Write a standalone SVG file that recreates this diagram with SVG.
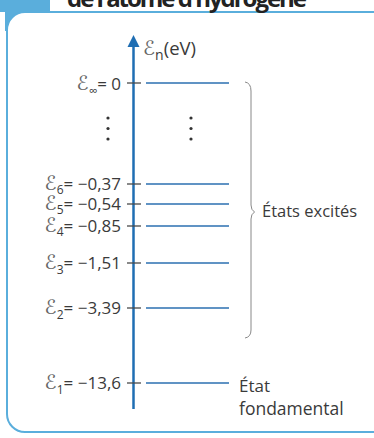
<svg xmlns="http://www.w3.org/2000/svg" width="374" height="438" viewBox="0 0 374 438">
<style>
.lbl{font-family:"Open Sans","Noto Sans",sans-serif;font-size:17px;fill:#3a3a3a}
.se{font-family:"DejaVu Sans",sans-serif;fill:#666;font-size:20px}
.sub{font-size:12px}
.lvl{stroke:#2b6fb0;stroke-width:1.7;fill:none}
.tick{stroke:#4a4a4a;stroke-width:1.3}
.dot{fill:#333}
</style>
<rect width="374" height="438" fill="#ffffff"/>
<g id="frame">
<rect x="0" y="0" width="50" height="12" fill="#5aaedc"/>
<rect x="5" y="11" width="22" height="20" fill="#5aaedc"/>
<rect x="7" y="12" width="420" height="420" rx="18" fill="#ffffff" stroke="#5aaedc" stroke-width="2"/>
<text x="67" y="7" font-family="'Open Sans','Noto Sans',sans-serif" font-size="24" font-weight="bold" fill="#222" textLength="240">de l'atome d'hydrogène</text>
</g>
<g id="axis">
<line x1="133.5" y1="409" x2="133.5" y2="45" stroke="#1f6eb3" stroke-width="2.5"/>
<polygon points="133.5,35 127.5,47 139.5,47" fill="#1f6eb3"/>
<text class="lbl" x="143" y="55" style="font-size:18.5px"><tspan class="se">ℰ</tspan><tspan class="sub" dy="5" style="font-size:14px">n</tspan><tspan dy="-5">(eV)</tspan></text>
</g>
<g id="connectors">
<line class="tick" x1="127" y1="83" x2="141" y2="83"/>
<line class="tick" x1="127" y1="184" x2="141" y2="184"/>
<line class="tick" x1="127" y1="204" x2="141" y2="204"/>
<line class="tick" x1="127" y1="226" x2="141" y2="226"/>
<line class="tick" x1="127" y1="263" x2="141" y2="263"/>
<line class="tick" x1="127" y1="308" x2="141" y2="308"/>
<line class="tick" x1="127" y1="383" x2="141" y2="383"/>
</g>
<g id="level-inf">
<line class="lvl" x1="146" y1="83" x2="229" y2="83"/>
<text class="lbl" x="121" y="90" text-anchor="end"><tspan class="se">ℰ</tspan><tspan class="sub" dy="5">∞</tspan><tspan dy="-5">= 0</tspan></text>
</g>
<g id="dots">
<circle class="dot" cx="108" cy="118" r="1.6"/>
<circle class="dot" cx="108" cy="128.5" r="1.6"/>
<circle class="dot" cx="108" cy="139" r="1.6"/>
<circle class="dot" cx="191" cy="118" r="1.6"/>
<circle class="dot" cx="191" cy="128.5" r="1.6"/>
<circle class="dot" cx="191" cy="139" r="1.6"/>
</g>
<g id="level-6">
<line class="lvl" x1="146" y1="184" x2="229" y2="184"/>
<text class="lbl" x="121" y="190" text-anchor="end"><tspan class="se">ℰ</tspan><tspan class="sub" dy="4">6</tspan><tspan dy="-4">= −0,37</tspan></text>
</g>
<g id="level-5">
<line class="lvl" x1="146" y1="204" x2="229" y2="204"/>
<text class="lbl" x="121" y="210" text-anchor="end"><tspan class="se">ℰ</tspan><tspan class="sub" dy="4">5</tspan><tspan dy="-4">= −0,54</tspan></text>
</g>
<g id="level-4">
<line class="lvl" x1="146" y1="226" x2="229" y2="226"/>
<text class="lbl" x="121" y="232" text-anchor="end"><tspan class="se">ℰ</tspan><tspan class="sub" dy="4">4</tspan><tspan dy="-4">= −0,85</tspan></text>
</g>
<g id="level-3">
<line class="lvl" x1="146" y1="263" x2="229" y2="263"/>
<text class="lbl" x="121" y="269" text-anchor="end"><tspan class="se">ℰ</tspan><tspan class="sub" dy="5">3</tspan><tspan dy="-5">= −1,51</tspan></text>
</g>
<g id="level-2">
<line class="lvl" x1="146" y1="308" x2="229" y2="308"/>
<text class="lbl" x="121" y="314" text-anchor="end"><tspan class="se">ℰ</tspan><tspan class="sub" dy="5">2</tspan><tspan dy="-5">= −3,39</tspan></text>
</g>
<g id="level-1">
<line class="lvl" x1="146" y1="383" x2="229" y2="383"/>
<text class="lbl" x="121" y="389" text-anchor="end"><tspan class="se">ℰ</tspan><tspan class="sub" dy="5">1</tspan><tspan dy="-5">= −13,6</tspan></text>
</g>
<g id="excited">
<path d="M245,82 Q251,83 251,91 L251,205 Q251,210 254.5,212 Q251,214 251,219 L251,330 Q251,337 245,338" fill="none" stroke="#888" stroke-width="1"/>
<text class="lbl" x="262" y="217" style="font-size:16.5px">États excités</text>
</g>
<g id="ground">
<text class="lbl" x="239" y="392">État</text>
<text class="lbl" x="239" y="415" style="font-size:17.5px">fondamental</text>
</g>
</svg>
